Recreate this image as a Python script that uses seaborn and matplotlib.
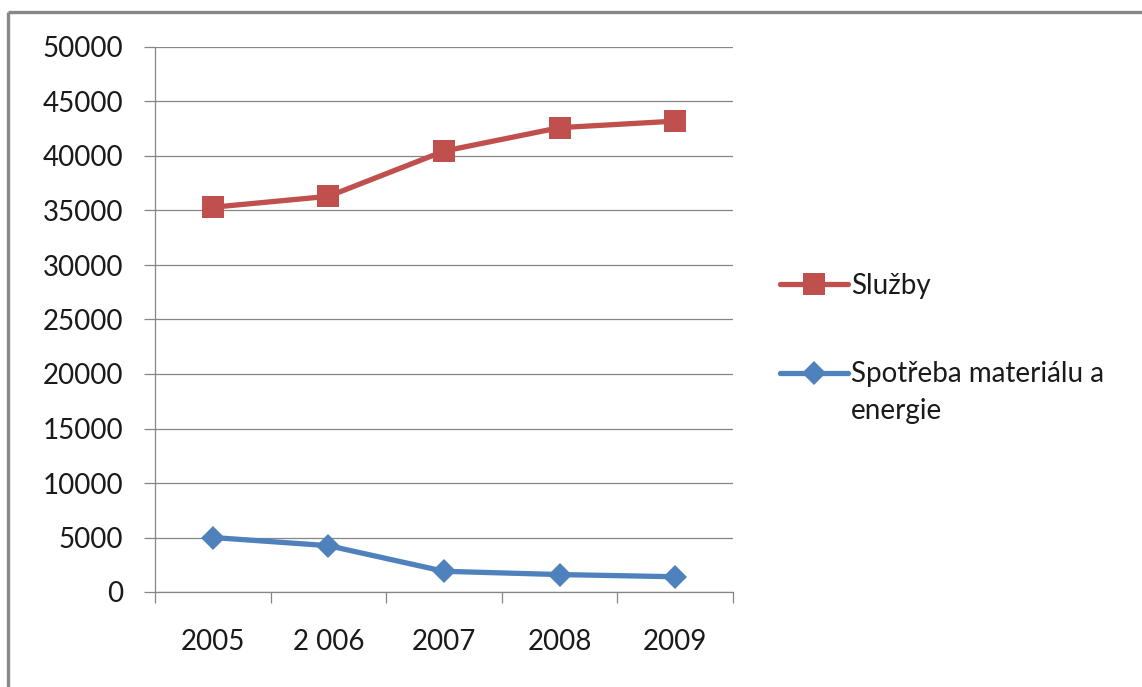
import matplotlib
matplotlib.use("Agg")
import matplotlib.pyplot as plt
from matplotlib.lines import Line2D
import numpy as np
import pandas as pd
import seaborn as sns

# Data
years = ["2005", "2 006", "2007", "2008", "2009"]
sluzby = [35300, 36300, 40450, 42600, 43200]
spotreba = [5000, 4250, 1900, 1600, 1400]
series_names = ["Služby", "Spotřeba materiálu a energie"]
yticks = [0, 5000, 10000, 15000, 20000, 25000, 30000, 35000, 40000, 45000, 50000]

RED = "#C0504D"
BLUE = "#4F81BD"
GRID = "#868686"
TEXT = "#1a1a1a"

sns.set_theme(style="white")
plt.rcParams["font.family"] = ["Lato", "DejaVu Sans"]

W, H = 1142, 687
fig = plt.figure(figsize=(W / 100, H / 100), dpi=100)
fig.patch.set_facecolor("white")

ax = fig.add_axes([155 / W, 1 - 592 / H, (733 - 155) / W, (592 - 47) / H])

pos = np.arange(len(years))
df = pd.DataFrame({"pos": pos, "Služby": sluzby, "Spotřeba": spotreba})

sns.lineplot(data=df, x="pos", y="Služby", ax=ax, color=RED, lw=3.8,
             marker="s", markersize=16, markeredgewidth=0,
             label=series_names[0], zorder=3)
sns.lineplot(data=df, x="pos", y="Spotřeba", ax=ax, color=BLUE, lw=3.8,
             marker="D", markersize=12.5, markeredgewidth=0,
             label="Spotřeba materiálu a", zorder=3)

ax.set_xlim(-0.5, len(years) - 0.5)
ax.set_ylim(0, 50000)
ax.set_xlabel("")
ax.set_ylabel("")

# y axis: gridlines, outward ticks
ax.set_yticks(yticks)
ax.set_yticklabels([str(v) for v in yticks])
ax.yaxis.grid(True, color=GRID, lw=0.9)
ax.set_axisbelow(True)

# x axis: labels at category centres, ticks at category boundaries
ax.set_xticks(pos)
ax.set_xticklabels(years)
ax.set_xticks(np.arange(-0.5, len(years)), minor=True)
ax.tick_params(axis="x", which="major", length=0, pad=27, labelsize=20, labelcolor=TEXT)
ax.tick_params(axis="x", which="minor", length=8, width=0.9, color=GRID, direction="out", bottom=True)
ax.tick_params(axis="y", which="major", length=8, width=0.9, color=GRID, direction="out",
               left=True, pad=15, labelsize=20, labelcolor=TEXT)

for side in ["top", "right"]:
    ax.spines[side].set_visible(False)
for side in ["left", "bottom"]:
    ax.spines[side].set_color(GRID)
    ax.spines[side].set_linewidth(0.9)

# Legend to the right of the plot area
ax.get_legend().remove()
handles, labels = ax.get_legend_handles_labels()
leg = fig.legend(handles, labels, loc="upper left",
                 bbox_to_anchor=(780 / W, 1 - 273 / H), frameon=False,
                 fontsize=20, handlelength=2.45, handletextpad=0.1,
                 borderpad=0, borderaxespad=0, labelspacing=2.25,
                 labelcolor=TEXT)

# Second line of the wrapped legend label
fig.canvas.draw()
bb = leg.get_texts()[1].get_window_extent()
fig.text(bb.x0 / W, (bb.y0 - 37) / H, "energie", fontsize=20, color=TEXT,
         ha="left", va="bottom")

# Chart frame
frame_kw = dict(color="#888888", lw=2.4, solid_capstyle="butt")
fig.add_artist(Line2D([8 / W, 1.0], [1 - 12 / H, 1 - 12 / H], transform=fig.transFigure, **frame_kw))
fig.add_artist(Line2D([8 / W, 8 / W], [1 - 12 / H, 0.0], transform=fig.transFigure, **frame_kw))

fig.savefig("out.png", dpi=100, facecolor="white")
